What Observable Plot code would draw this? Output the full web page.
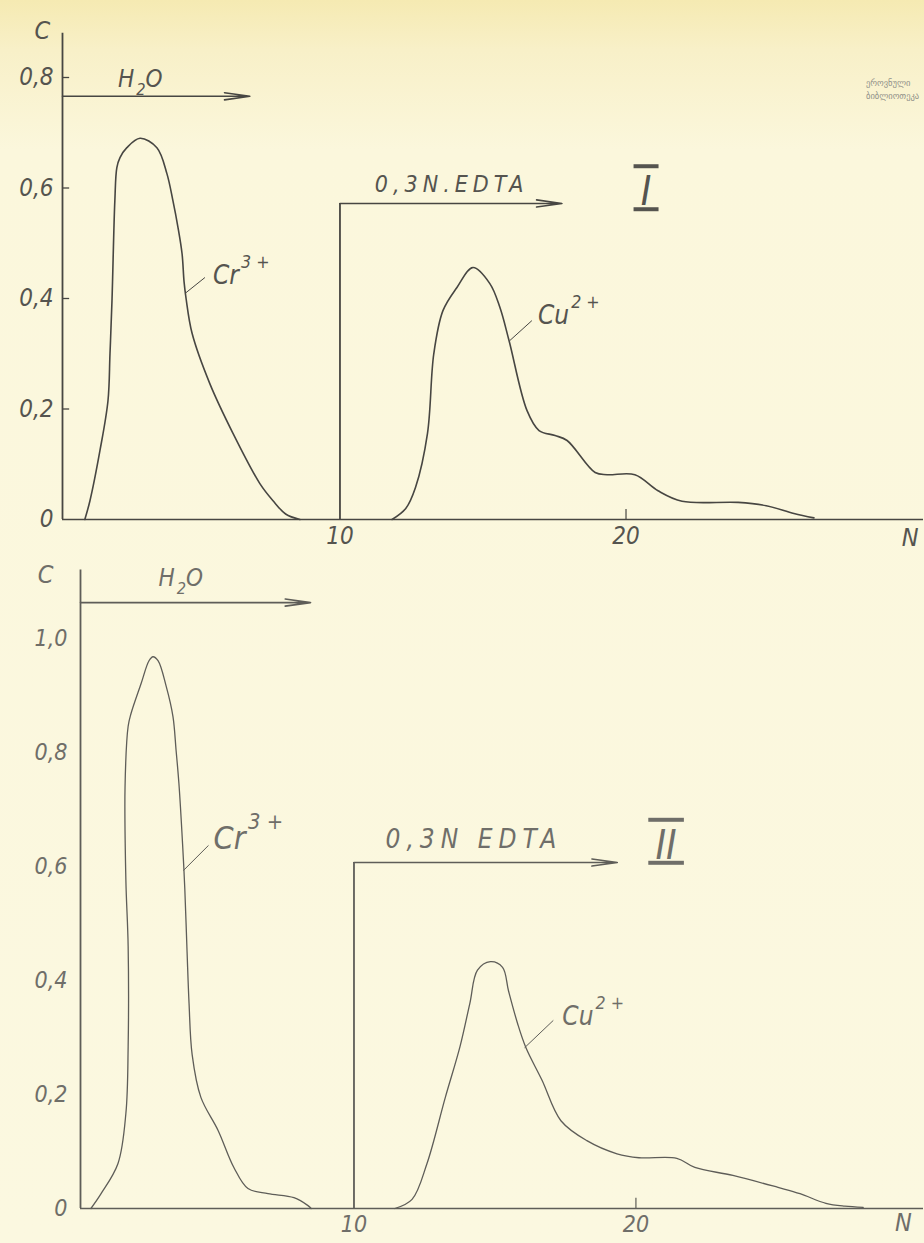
<!DOCTYPE html>
<html><head><meta charset="utf-8">
<script src="https://cdn.jsdelivr.net/npm/d3@7"></script>
<script src="https://cdn.jsdelivr.net/npm/@observablehq/plot@0.6"></script>
<style>
html,body{margin:0;padding:0;}
body{width:924px;height:1243px;overflow:hidden;position:relative;
  background:linear-gradient(#f5eab2 0px,#f8f0c8 50px,#fbf7dc 150px,#fbf8e0 100%);}
#chart svg{display:block;}
.wm{position:absolute;left:866px;font:8.5px "DejaVu Sans";color:#8f8f88;white-space:nowrap;}
</style></head><body>
<div id="chart"></div>
<div class="wm" style="top:78px">ეროვნული</div>
<div class="wm" style="top:91px">ბიბლიოთეკა</div>
<script>
// ---------- data (N = fraction number, C = concentration) ----------
const crI = [[1.08,0],[1.26,0.034],[1.61,0.125],[1.89,0.215],[1.96,0.30],[2.03,0.396],[2.13,0.577],[2.20,0.637],[2.31,0.655],[2.55,0.673],[3.01,0.690],[3.60,0.673],[3.95,0.626],[4.16,0.577],[4.34,0.528],[4.48,0.481],[4.55,0.43],[4.62,0.40],[4.83,0.337],[5.45,0.246],[6.26,0.156],[7.20,0.065],[7.66,0.034],[8.1,0.01],[8.6,0]];
const cuI = [[11.82,0],[12.3,0.02],[12.64,0.058],[13.06,0.156],[13.28,0.30],[13.6,0.378],[14.09,0.42],[14.65,0.456],[15.24,0.427],[15.59,0.384],[15.91,0.324],[16.54,0.197],[16.96,0.161],[17.52,0.152],[17.94,0.143],[18.92,0.085],[19.34,0.081],[20.31,0.081],[21.12,0.052],[21.96,0.033],[23.92,0.031],[24.9,0.025],[25.87,0.011],[26.57,0.003]];
const crII = [[0.67,0],[1.03,0.026],[1.63,0.079],[1.91,0.167],[1.99,0.284],[1.99,0.46],[1.91,0.575],[1.88,0.74],[1.99,0.846],[2.09,0.868],[2.45,0.921],[2.73,0.961],[2.87,0.968],[3.05,0.961],[3.34,0.916],[3.58,0.863],[3.69,0.804],[3.79,0.746],[3.92,0.64],[4.0,0.56],[4.08,0.45],[4.15,0.36],[4.26,0.27],[4.57,0.195],[5.18,0.137],[5.74,0.072],[6.24,0.035],[6.95,0.026],[7.87,0.019],[8.37,0.005],[8.48,0]];
const cuII = [[11.45,0],[12.06,0.016],[12.59,0.079],[13.24,0.195],[13.76,0.284],[14.11,0.36],[14.38,0.418],[14.84,0.433],[15.27,0.423],[15.48,0.382],[15.8,0.325],[16.1,0.282],[16.67,0.225],[17.34,0.154],[18.26,0.119],[19.33,0.096],[20.11,0.089],[21.45,0.088],[22.09,0.072],[23.44,0.058],[25.04,0.037],[25.82,0.026],[26.74,0.009],[27.41,0.004],[28.06,0.002]];

const yTicksI = [0, 0.2, 0.4, 0.6, 0.8];
const yTicksII = [0, 0.2, 0.4, 0.6, 0.8, 1.0];
const xTicks = [10, 20];

// annotations: eluent arrows, eluent step, labels, leader lines
const arrowsI = [{x1: 0.3, x2: 6.85, y: 0.766}, {x1: 10, x2: 17.76, y: 0.572}];
const arrowsII = [{x1: 0.3, x2: 8.46, y: 1.063}, {x1: 10, x2: 19.34, y: 0.607}];
const stepI = [{x: 10, y: 0.572}];
const stepII = [{x: 10, y: 0.607}];
const labelsI = [
  {x: -0.4, y: 0.885, t: "C", size: 25, a: "middle"},
  {x: 2.24, y: 0.796, t: "H_{2}O", size: 24, a: "start"},
  {x: 11.22, y: 0.606, t: "0,3N.EDTA", size: 23, a: "start"},
  {x: 5.56, y: 0.442, t: "Cr^{3 +}", size: 26, a: "start"},
  {x: 16.92, y: 0.369, t: "Cu^{2 +}", size: 26, a: "start"},
  {x: 29.93, y: -0.034, t: "N", size: 25, a: "middle"}
];
const labelsII = [
  {x: -0.94, y: 1.112, t: "C", size: 25, a: "middle"},
  {x: 3.07, y: 1.105, t: "H_{2}O", size: 24, a: "start"},
  {x: 11.12, y: 0.647, t: "0,3N EDTA", size: 26, a: "start"},
  {x: 5.02, y: 0.649, t: "Cr^{3 +}", size: 32, a: "start"},
  {x: 17.39, y: 0.337, t: "Cu^{2 +}", size: 26, a: "start"},
  {x: 29.49, y: -0.025, t: "N", size: 25, a: "middle"}
];
const romanI = [{x: 20.7, y: 0.592, t: "\u2009I\u2009"}];
const romanII = [{x: 21.07, y: 0.636, t: "\u2009II\u2009"}];
const leadersI = [{x1: 4.58, y1: 0.409, x2: 5.28, y2: 0.438}, {x1: 15.94, y1: 0.324, x2: 16.71, y2: 0.360}];
const leadersII = [{x1: 3.95, y1: 0.593, x2: 4.84, y2: 0.637}, {x1: 16.05, y1: 0.282, x2: 17.07, y2: 0.330}];

const FONT = '"DejaVu Sans Condensed","DejaVu Sans",sans-serif';
const fmt = d => d === 0 ? "0" : d.toFixed(1).replace(".", ",");

function panel(o) {
  const {crv, cu, yTicks, arrows, step, labels, roman, leaders, ink, txt, lw, yMax, xMax, m, h, pad, fs} = o;
  return Plot.plot({
    width: 924, height: h,
    marginTop: m[0], marginRight: m[1], marginBottom: m[2], marginLeft: m[3],
    x: {domain: [0.3, xMax]},
    y: {domain: [0, yMax]},
    style: {background: "transparent", fontFamily: FONT, fontStyle: "italic", color: txt, fontSize: fs + "px", overflow: "visible"},
    marks: [
      Plot.axisY(yTicks, {tickFormat: fmt, tickSize: 0, tickPadding: pad, label: null, fontSize: fs, fill: txt}),
      Plot.axisX(xTicks, {tickSize: 0, tickPadding: 7, label: null, fontSize: fs, fill: txt}),
      Plot.ruleX([0.3], {y1: 0, y2: yMax, stroke: ink, strokeWidth: 1.8}),
      Plot.ruleY([0], {stroke: ink, strokeWidth: 1.5}),
      o.innerTicks ? Plot.ruleY(yTicks.filter(d => d > 0), {x1: 0.3, x2: 0.55, stroke: ink, strokeWidth: 1.3}) : null,
      Plot.ruleX([20], {y1: 0, y2: 0.018, stroke: ink, strokeWidth: 1.2}),
      Plot.ruleX(step, {x: "x", y1: 0, y2: "y", stroke: ink, strokeWidth: 1.8}),
      Plot.arrow(arrows, {x1: "x1", x2: "x2", y1: "y", y2: "y", stroke: ink, strokeWidth: 1.6, headLength: 24, headAngle: 16}),
      Plot.line(crv, {x: d => d[0], y: d => d[1], curve: "catmull-rom", stroke: ink, strokeWidth: lw}),
      Plot.line(cu, {x: d => d[0], y: d => d[1], curve: "catmull-rom", stroke: ink, strokeWidth: lw}),
      Plot.link(leaders, {x1: "x1", y1: "y1", x2: "x2", y2: "y2", stroke: ink, strokeWidth: 1}),
      Plot.text(labels.filter(d => d.a === "start"), {x: "x", y: "y", text: "t", fontSize: "size", textAnchor: "start", fill: txt, fontFamily: FONT, fontStyle: "italic"}),
      Plot.text(labels.filter(d => d.a === "middle"), {x: "x", y: "y", text: "t", fontSize: "size", textAnchor: "middle", fill: txt, fontFamily: FONT, fontStyle: "italic"}),
      Plot.text(roman, {x: "x", y: "y", text: "t", fontSize: 40, textAnchor: "middle", fill: txt, fontFamily: FONT, fontStyle: "italic", fontWeight: 300})
    ]
  });
}

const p1 = panel({crv: crI, cu: cuI, yTicks: yTicksI, arrows: arrowsI, step: stepI, labels: labelsI, roman: romanI, leaders: leadersI,
  ink: "#474642", txt: "#55544f", lw: 1.6, yMax: 0.88, xMax: 30.4, m: [32.8, 1, 41, 62], h: 560, pad: 9, fs: 24, innerTicks: true});
const p2 = panel({crv: crII, cu: cuII, yTicks: yTicksII, arrows: arrowsII, step: stepII, labels: labelsII, roman: romanII, leaders: leadersII,
  ink: "#5e5d58", txt: "#6f6e69", lw: 1.3, yMax: 1.12, xMax: 30.2, m: [9.6, 1, 35, 80], h: 683, pad: 13, fs: 23, innerTicks: false});

const host = document.getElementById("chart");
host.appendChild(p1);
host.appendChild(p2);

function richify(svg, spacing) {
  svg.querySelectorAll("text").forEach(el => {
    const t = el.textContent;
    if (t.includes("EDTA")) el.style.letterSpacing = spacing + "px";
    if (/^\u2009I+\u2009$/.test(t)) {
      el.style.textDecorationLine = "overline underline";
      el.style.textDecorationThickness = "2px";
    }
    if (!/[\^_]\{/.test(t)) return;
    const fs = parseFloat(getComputedStyle(el).fontSize);
    const parts = t.split(/([\^_]\{[^}]*\})/).filter(s => s.length);
    while (el.firstChild) el.removeChild(el.firstChild);
    let cur = 0;
    for (const p of parts) {
      const mm = p.match(/^([\^_])\{(.*)\}$/);
      const ts = document.createElementNS("http://www.w3.org/2000/svg", "tspan");
      let target = 0, text = p;
      if (mm) {
        target = mm[1] === "^" ? -0.62 * fs : 0.3 * fs;
        text = mm[2];
        ts.setAttribute("font-size", (0.68 * fs).toFixed(1));
        ts.setAttribute("dx", (0.08 * fs).toFixed(1));
      }
      if (target !== cur) ts.setAttribute("dy", (target - cur).toFixed(1));
      cur = target;
      ts.textContent = text;
      el.appendChild(ts);
    }
  });
}
richify(p1, 5);
richify(p2, 6);
</script>
</body></html>
